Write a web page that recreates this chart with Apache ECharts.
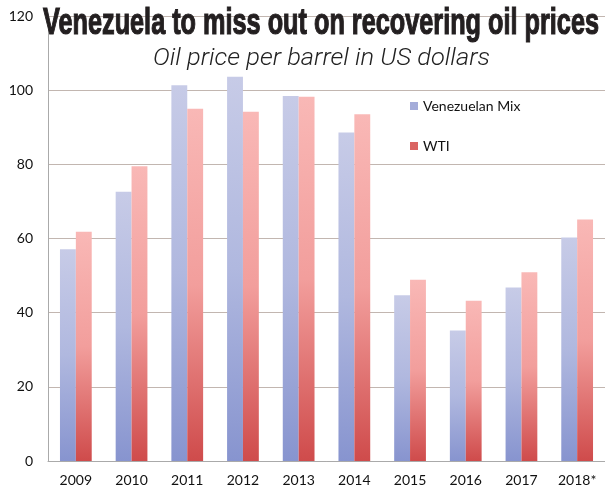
<!DOCTYPE html>
<html><head><meta charset="utf-8">
<script src="https://cdn.jsdelivr.net/npm/echarts@6/dist/echarts.min.js"></script>
<style>html,body{margin:0;padding:0;background:#fff}#c{width:605px;height:490px}</style>
</head><body><div id="c"></div>
<script>
var years = ['2009','2010','2011','2012','2013','2014','2015','2016','2017','2018*'];
var venezuelanMix = [57.1, 72.6, 101.3, 103.6, 98.4, 88.6, 44.7, 35.2, 46.8, 60.3];
var wti = [61.8, 79.5, 95.0, 94.2, 98.2, 93.5, 48.9, 43.2, 50.9, 65.1];
var yTicks = {min: 0, max: 120, interval: 20};
var titleText = 'Venezuela to miss out on recovering oil prices';
var subtitleText = 'Oil price per barrel in US dollars';

function measure(text, font) {
  var ctx = document.createElement('canvas').getContext('2d');
  ctx.font = font;
  return ctx.measureText(text).width;
}
var titleFont = 'bold 37px "Liberation Sans"';
var subFont = 'italic 300 24px Roboto';
var titleScale = 556 / measure(titleText, titleFont);
var subScale = 337 / measure(subtitleText, subFont);

function grad(c0, c1, c2) {
  return new echarts.graphic.LinearGradient(0, 0, 0, 1, [
    {offset: 0, color: c0}, {offset: 0.5, color: c1}, {offset: 1, color: c2}
  ]);
}

var chart = echarts.init(document.getElementById('c'), null, {renderer: 'canvas'});
chart.setOption({
  animation: false,
  backgroundColor: '#fff',
  grid: {left: 48, top: 16, width: 558, height: 445},
  legend: {
    orient: 'vertical', left: 405, top: 94, itemGap: 26,
    itemWidth: 8, itemHeight: 8, icon: 'rect',
    textStyle: {fontFamily: 'Lato', fontSize: 14, color: '#111'},
    data: [
      {name: 'Venezuelan Mix', itemStyle: {color: '#a4acd9'}},
      {name: 'WTI', itemStyle: {color: '#da6462'}}
    ]
  },
  xAxis: {
    type: 'category', data: years,
    axisLine: {lineStyle: {color: '#aaa'}},
    axisTick: {length: 5, lineStyle: {color: '#aaa'}},
    axisLabel: {margin: 12, fontFamily: 'Lato', fontSize: 14, color: '#111'}
  },
  yAxis: {
    type: 'value', min: yTicks.min, max: yTicks.max, interval: yTicks.interval,
    axisLine: {show: true, lineStyle: {color: '#aaa'}},
    axisTick: {show: false},
    axisLabel: {margin: 15, fontFamily: 'Lato', fontSize: 14, color: '#111'},
    splitLine: {lineStyle: {color: '#c2b6b0', width: 1.2}}
  },
  series: [
    {name: 'Venezuelan Mix', type: 'bar', data: venezuelanMix, barGap: '0%', barCategoryGap: '43%',
     itemStyle: {color: grad('#c7cbe7', '#b0b8df', '#8794cf')}},
    {name: 'WTI', type: 'bar', data: wti,
     itemStyle: {color: grad('#f9b8b6', '#f29e9c', '#cf4b4b')}}
  ],
  graphic: [
    {type: 'text', x: 43, y: 24, scaleX: titleScale, z: 100,
     style: {text: titleText, font: titleFont, fill: '#231f20', stroke: '#231f20', lineWidth: 1.2,
             textAlign: 'left', textVerticalAlign: 'middle'}},
    {type: 'text', x: 153, y: 59, scaleX: subScale, z: 100,
     style: {text: subtitleText, font: subFont, fill: '#222', textAlign: 'left', textVerticalAlign: 'middle'}}
  ]
});
</script></body></html>
